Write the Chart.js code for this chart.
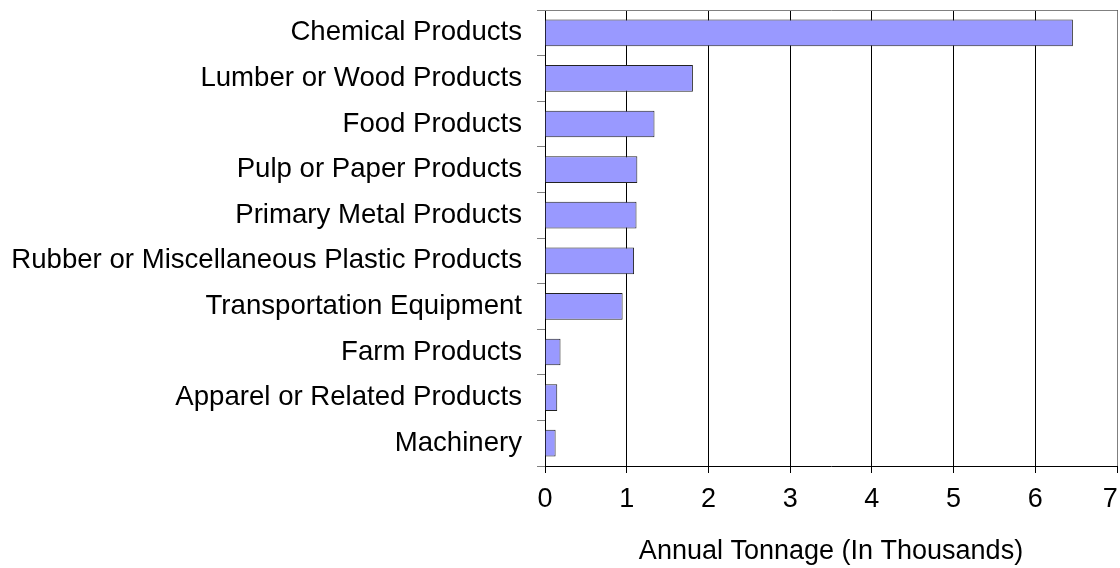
<!DOCTYPE html>
<html>
<head>
<meta charset="utf-8">
<script src="https://cdn.jsdelivr.net/npm/chart.js@4.4.1/dist/chart.umd.min.js"></script>
<style>
  html, body { margin: 0; padding: 0; background: #fff; }
  #wrap { width: 1120px; height: 568px; }
</style>
</head>
<body>
<div id="wrap"><canvas id="chart" width="1120" height="568"></canvas></div>
<script>
// Categories, top to bottom
const categories = [
  'Chemical Products',
  'Lumber or Wood Products',
  'Food Products',
  'Pulp or Paper Products',
  'Primary Metal Products',
  'Rubber or Miscellaneous Plastic Products',
  'Transportation Equipment',
  'Farm Products',
  'Apparel or Related Products',
  'Machinery'
];

// Annual tonnage, in thousands
const tonnage = [6.46, 1.81, 1.34, 1.13, 1.12, 1.09, 0.95, 0.19, 0.15, 0.13];

const xMin = 0;
const xMax = 7;
const xStep = 1;
const xTitle = 'Annual Tonnage (In Thousands)';

// gray frame on the top and right of the plot area
const frameLines = {
  id: 'frameLines',
  afterDraw(chart) {
    const { ctx, chartArea: a } = chart;
    ctx.save();
    ctx.strokeStyle = '#808080';
    ctx.lineWidth = 1;
    ctx.beginPath();
    ctx.moveTo(a.left, a.top + 0.5);
    ctx.lineTo(a.right + 0.5, a.top + 0.5);
    ctx.lineTo(a.right + 0.5, a.bottom);
    ctx.stroke();
    ctx.restore();
  }
};

const family = '"Liberation Sans", Arial, sans-serif';

new Chart(document.getElementById('chart').getContext('2d'), {
  type: 'bar',
  data: {
    labels: categories,
    datasets: [{
      data: tonnage,
      backgroundColor: '#9999FF',
      borderColor: '#222222',
      borderWidth: 1,
      categoryPercentage: 1,
      barPercentage: 0.585
    }]
  },
  options: {
    indexAxis: 'y',
    responsive: false,
    animation: false,
    layout: { padding: { top: 10, right: 3, left: 0, bottom: 0 } },
    plugins: {
      legend: { display: false },
      tooltip: { enabled: false }
    },
    scales: {
      x: {
        min: xMin,
        max: xMax,
        ticks: {
          stepSize: xStep,
          color: '#000',
          font: { family: family, size: 27 },
          padding: 10,
          // last label sits inside the canvas edge
          callback: v => v === xMax ? v + '\u2002' : v
        },
        grid: { color: '#000', lineWidth: 1, tickLength: 7 },
        border: { color: '#000', width: 1 },
        title: { display: true, text: xTitle, color: '#000', font: { family: family, size: 27 }, padding: { top: 16, bottom: 0 } },
        afterFit: s => { s.height = 102; s.paddingLeft = 0; s.paddingRight = 0; }
      },
      y: {
        ticks: { color: '#000', font: { family: family, size: 27.6 }, padding: 15, autoSkip: false },
        grid: { drawOnChartArea: false, color: '#808080', tickLength: 8 },
        border: { color: '#000', width: 1 },
        afterFit: s => { s.width = 545; s.paddingTop = 0; s.paddingBottom = 0; }
      }
    }
  },
  plugins: [frameLines]
});
</script>
</body>
</html>
